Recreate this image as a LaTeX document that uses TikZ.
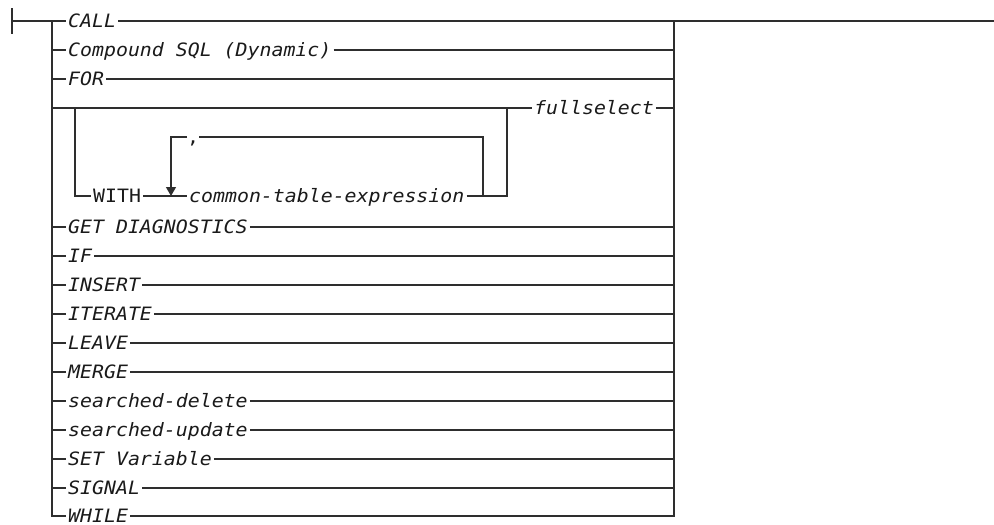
\documentclass[tikz,border=0pt]{standalone}
\usepackage{fontspec}
\setmonofont{DejaVu Sans Mono}[FakeStretch=1.08]
\usetikzlibrary{arrows.meta}
\definecolor{railgrey}{HTML}{2E2E2E}
\definecolor{textgrey}{HTML}{1A1A1A}

\tikzset{
  railline/.style={draw=railgrey, line width=1.2pt},
  kw/.style={inner xsep=2pt, inner ysep=0pt, text height=13.4pt, text depth=0pt,
             anchor=west, text=textgrey, font=\ttfamily\fontsize{18.4}{20}\selectfont},
  var/.style={kw, font=\ttfamily\itshape\fontsize{18.4}{20}\selectfont}
}

\begin{document}
\begin{tikzpicture}[x=1pt, y=-1pt]
  \useasboundingbox (0,0) rectangle (994,525);
  % upper branches
  \node[var] (call) at (66,21) {CALL};
  \node[var] (compound) at (66,50) {Compound SQL (Dynamic)};
  \node[var] (for) at (66,79) {FOR};
  \node[var] (fullselect) at (532,108) {fullselect};
  \node[kw] (with) at (91,196) {WITH};
  \node[var] (cte) at (187,196) {common-table-expression};
  \node[kw, inner xsep=0pt] (comma) at (187,137) {,};
  \node[var] (while) at (66,516) {WHILE};

  % start of the rail
  \draw[railline] (12,8) -- (12,34);
  \draw[railline] (12,21) -- (call.west);
  \draw[railline] (call.east) -- (994,21);
  \draw[railline] (52,21) |- (while.west);
  \draw[railline] (while.east) -| (674,21);
  \draw[railline] (52,50) -- (compound.west);
  \draw[railline] (compound.east) -- (674,50);
  \draw[railline] (52,79) -- (for.west);
  \draw[railline] (for.east) -- (674,79);

  % WITH ... fullselect
  \draw[railline] (52,108) -- (fullselect.west);
  \draw[railline] (fullselect.east) -- (674,108);
  \draw[railline] (75,108) |- (with.west);
  \draw[railline] (with.east) -- (cte.west);
  \draw[railline] (cte.east) -| (507,108);
  \draw[railline] (483,196) |- (comma.east);
  \draw[railline, -{Triangle[width=10pt, length=9pt]}] (comma.west) -| (171,196);

  % lower branches
  \foreach \lbl [count=\i from 0] in {GET DIAGNOSTICS, IF, INSERT, ITERATE, LEAVE,
      MERGE, searched-delete, searched-update, SET Variable, SIGNAL}{
    \node[var] (b\i) at (66,{227+29*\i}) {\lbl};
    \draw[railline] (52,{227+29*\i}) -- (b\i.west);
    \draw[railline] (b\i.east) -- (674,{227+29*\i});
  }
\end{tikzpicture}
\end{document}
